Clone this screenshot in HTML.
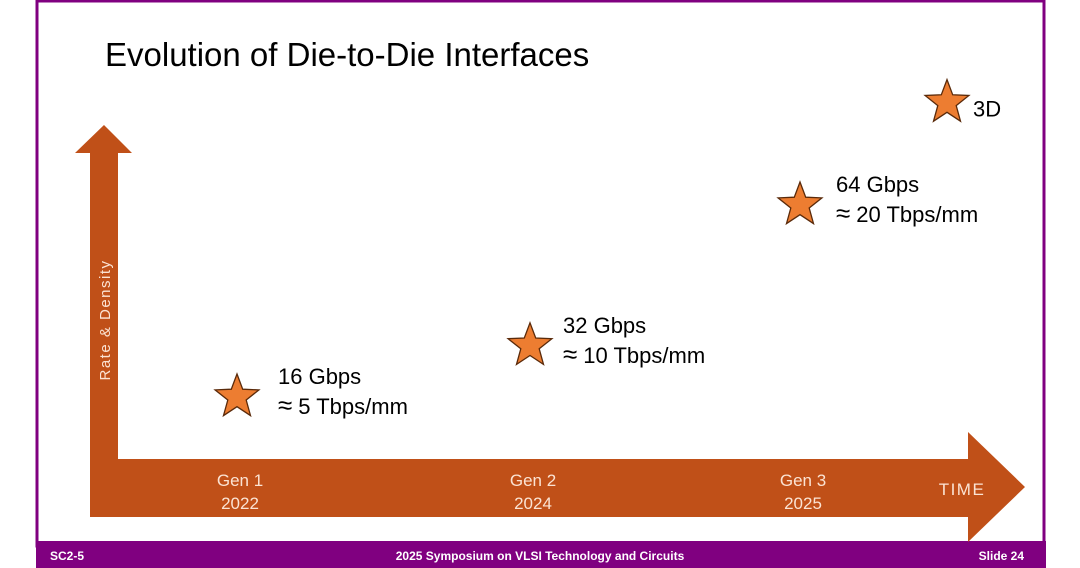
<!DOCTYPE html>
<html><head><meta charset="utf-8"><style>
html,body{margin:0;padding:0;background:#fff;}
svg{display:block;font-family:"Liberation Sans",sans-serif;}
</style></head><body>
<svg id="c" width="1080" height="568" viewBox="0 0 1080 568">
<rect x="0" y="0" width="1080" height="568" fill="#fff"/>
<rect x="37" y="1" width="1007" height="545" fill="none" stroke="#800080" stroke-width="3"/>
<rect x="36" y="541" width="1010" height="27" fill="#800080"/>
<text x="50" y="560" font-size="12" font-weight="bold" fill="#fff">SC2-5</text>
<text x="540" y="560" font-size="12" font-weight="bold" fill="#fff" text-anchor="middle">2025 Symposium on VLSI Technology and Circuits</text>
<text x="1024" y="560" font-size="12" font-weight="bold" fill="#fff" text-anchor="end">Slide 24</text>
<text x="105" y="66" font-size="33" fill="#000">Evolution of Die-to-Die Interfaces</text>
<polygon points="90,517 90,153 75,153 104,125 132,153 118,153 118,459 968,459 968,432 1025,487 968,542 968,517" fill="#c05018"/>
<text transform="translate(110,320) rotate(-90)" font-size="15" letter-spacing="1.5" fill="#fbe3d3" text-anchor="middle">Rate &amp; Density</text>
<text x="962" y="495" font-size="17" letter-spacing="1.5" fill="#fbe3d3" text-anchor="middle">TIME</text>
<g id="marks"></g>
</svg>
<script>
const categories=["Gen 1","Gen 2","Gen 3","3D"];
const years=["2022","2024","2025",""];
const rates=["16 Gbps","32 Gbps","64 Gbps",""];
const densityLabels=["5 Tbps/mm","10 Tbps/mm","20 Tbps/mm","3D"];
const density=[5,9,20,28];
const NS="http://www.w3.org/2000/svg";
function xScale(i){return [237,530,800,947][i];}
function yScale(v){return 397-(v-5)*12.8;}
const g=document.getElementById("marks");
function mk(tag,attrs,txt){const e=document.createElementNS(NS,tag);for(const k in attrs)e.setAttribute(k,attrs[k]);if(txt)e.textContent=txt;g.appendChild(e);return e;}
function star(cx,cy,R){const r=R*0.42;let p=[];for(let k=0;k<10;k++){const a=-Math.PI/2+k*Math.PI/5;const rr=k%2?r:R;p.push((cx+rr*Math.cos(a)).toFixed(1)+","+(cy+rr*Math.sin(a)).toFixed(1));}return p.join(" ");}
const offs=[41,33,36];
for(let i=0;i<categories.length;i++){
  const cx=xScale(i),cy=yScale(density[i]);
  const s=mk("polygon",{points:star(cx,cy,23),fill:"#ed7d31",stroke:"#5a2a0a","stroke-width":"1.3"});
  
  
  if(rates[i]){
    const tx=cx+offs[i];
    const t1=mk("text",{x:tx,y:cy-13,"font-size":"22",fill:"#000"},rates[i]);
    
    
    const t2=mk("text",{x:tx,y:cy+17,"font-size":"22",fill:"#000"});
    
    
    const a=document.createElementNS(NS,"tspan");a.setAttribute("font-size","26");a.textContent="≈";t2.appendChild(a);
    const b=document.createElementNS(NS,"tspan");b.setAttribute("dx","6");b.textContent=densityLabels[i];t2.appendChild(b);
    const g1=mk("text",{x:cx+3,y:486,"font-size":"17",fill:"#fbe3d3","text-anchor":"middle"},categories[i]);
    
    
    const g2=mk("text",{x:cx+3,y:509,"font-size":"17",fill:"#fbe3d3","text-anchor":"middle"},years[i]);
    
    
  } else {
    const t=mk("text",{x:cx+26,y:cy+14,"font-size":"22",fill:"#000"},densityLabels[i]);
    
    
  }
}
</script>
</body></html>
